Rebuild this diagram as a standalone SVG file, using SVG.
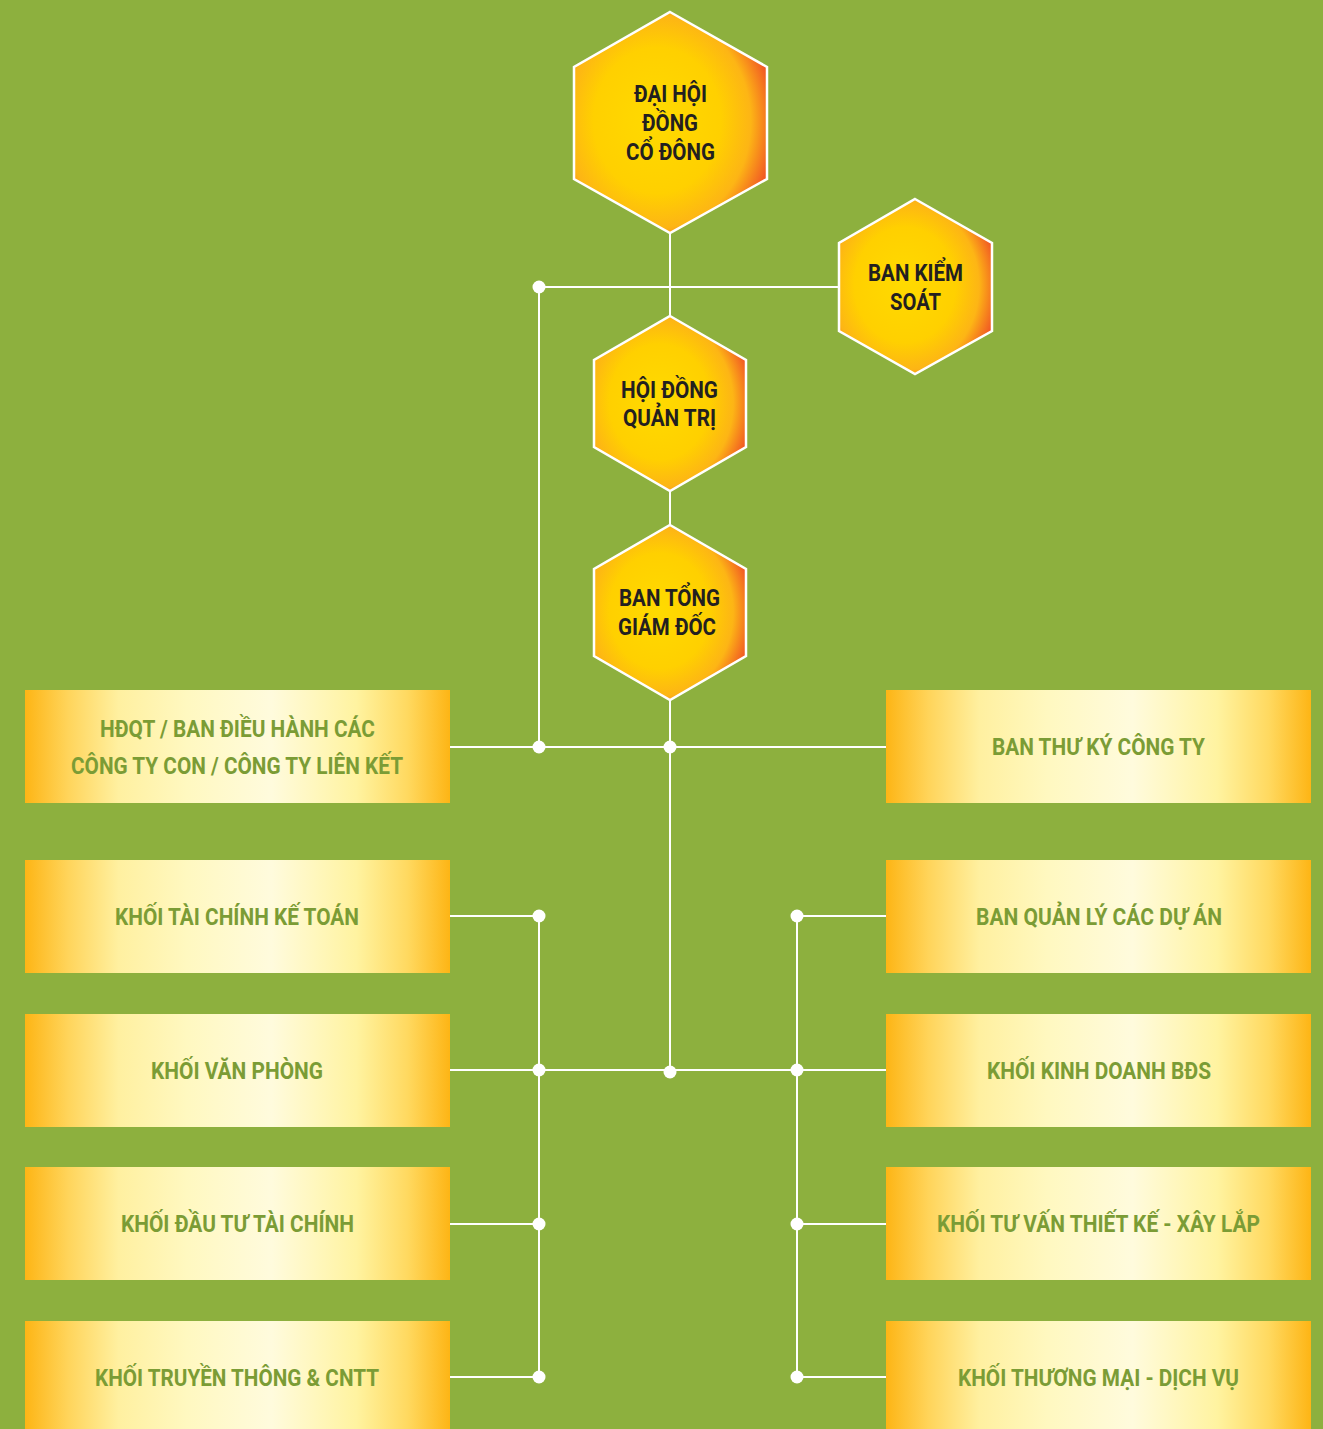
<svg xmlns="http://www.w3.org/2000/svg" width="1323" height="1429" viewBox="0 0 1323 1429">
<defs>
<radialGradient id="hexGrad" cx="0.44" cy="0.5" r="0.6" fx="0.42" fy="0.48">
<stop offset="0" stop-color="#FFDA00"/>
<stop offset="0.55" stop-color="#FFD000"/>
<stop offset="0.8" stop-color="#FDB515"/>
<stop offset="1" stop-color="#F15A24"/>
</radialGradient>
<linearGradient id="boxGrad" x1="0" y1="0" x2="1" y2="0">
<stop offset="0" stop-color="#FDB515"/>
<stop offset="0.1" stop-color="#FFD45A"/>
<stop offset="0.22" stop-color="#FFF0A0"/>
<stop offset="0.38" stop-color="#FFF8C0"/>
<stop offset="0.58" stop-color="#FFFBDD"/>
<stop offset="0.78" stop-color="#FFF3A0"/>
<stop offset="0.9" stop-color="#FFD960"/>
<stop offset="1" stop-color="#FDB515"/>
</linearGradient>
</defs>
<style>
.hex{fill:url(#hexGrad);stroke:#FFFFFF;stroke-width:2.5}
.box{fill:url(#boxGrad)}
.ht{font-family:Roboto,"Liberation Sans",sans-serif;font-weight:bold;font-size:23px;fill:#231F20;text-anchor:middle}
.bt{font-family:Roboto,"Liberation Sans",sans-serif;font-weight:bold;font-size:23px;fill:#7B9C35;text-anchor:middle}
.ln{stroke:#FFFFFF;stroke-width:2;fill:none}
.dot{fill:#FFFFFF}
</style>
<rect x="0" y="0" width="1323" height="1429" fill="#8DB03E"/>

<g id="connectors">
<line class="ln" x1="670" y1="233" x2="670" y2="316"/>
<line class="ln" x1="539" y1="287" x2="839" y2="287"/>
<line class="ln" x1="539" y1="287" x2="539" y2="747"/>
<line class="ln" x1="670" y1="491" x2="670" y2="525"/>
<line class="ln" x1="670" y1="700" x2="670" y2="1072"/>
<line class="ln" x1="450" y1="747" x2="886" y2="747"/>
<line class="ln" x1="450" y1="1070" x2="886" y2="1070"/>
<line class="ln" x1="539" y1="916" x2="539" y2="1377"/>
<line class="ln" x1="797" y1="916" x2="797" y2="1377"/>
<line class="ln" x1="450" y1="916" x2="539" y2="916"/>
<line class="ln" x1="450" y1="1224" x2="539" y2="1224"/>
<line class="ln" x1="450" y1="1377" x2="539" y2="1377"/>
<line class="ln" x1="797" y1="916" x2="886" y2="916"/>
<line class="ln" x1="797" y1="1224" x2="886" y2="1224"/>
<line class="ln" x1="797" y1="1377" x2="886" y2="1377"/>
<circle class="dot" cx="539" cy="287" r="6.5"/>
<circle class="dot" cx="539" cy="747" r="6.5"/>
<circle class="dot" cx="670" cy="747" r="6.5"/>
<circle class="dot" cx="670" cy="1072" r="6.5"/>
<circle class="dot" cx="539" cy="916" r="6.5"/>
<circle class="dot" cx="539" cy="1070" r="6.5"/>
<circle class="dot" cx="539" cy="1224" r="6.5"/>
<circle class="dot" cx="539" cy="1377" r="6.5"/>
<circle class="dot" cx="797" cy="916" r="6.5"/>
<circle class="dot" cx="797" cy="1070" r="6.5"/>
<circle class="dot" cx="797" cy="1224" r="6.5"/>
<circle class="dot" cx="797" cy="1377" r="6.5"/>
</g>

<g id="dai-hoi-dong-co-dong">
<polygon class="hex" points="670,12 767,67 767,179 670,233 574,179 574,67"/>
<text class="ht" x="670.5" y="102" textLength="73" lengthAdjust="spacingAndGlyphs">ĐẠI HỘI</text>
<text class="ht" x="670" y="131" textLength="56" lengthAdjust="spacingAndGlyphs">ĐỒNG</text>
<text class="ht" x="670.5" y="160" textLength="89" lengthAdjust="spacingAndGlyphs">CỔ ĐÔNG</text>
</g>

<g id="ban-kiem-soat">
<polygon class="hex" points="915,199 992,243 992,331 915,374 839,331 839,243"/>
<text class="ht" x="915.5" y="281" textLength="95" lengthAdjust="spacingAndGlyphs">BAN KIỂM</text>
<text class="ht" x="915.5" y="310" textLength="51" lengthAdjust="spacingAndGlyphs">SOÁT</text>
</g>

<g id="hoi-dong-quan-tri">
<polygon class="hex" points="670,316 746,360 746,447 670,491 594,447 594,360"/>
<text class="ht" x="669.5" y="398" textLength="97" lengthAdjust="spacingAndGlyphs">HỘI ĐỒNG</text>
<text class="ht" x="669.5" y="426" textLength="93" lengthAdjust="spacingAndGlyphs">QUẢN TRỊ</text>
</g>

<g id="ban-tong-giam-doc">
<polygon class="hex" points="670,525 746,569 746,656 670,700 594,656 594,569"/>
<text class="ht" x="669.5" y="606" textLength="101" lengthAdjust="spacingAndGlyphs">BAN TỔNG</text>
<text class="ht" x="667" y="635" textLength="98" lengthAdjust="spacingAndGlyphs">GIÁM ĐỐC</text>
</g>

<g id="hdqt-cong-ty-con">
<rect class="box" x="25" y="690" width="425" height="113"/>
<text class="bt" x="237.5" y="737" textLength="275" lengthAdjust="spacingAndGlyphs">HĐQT / BAN ĐIỀU HÀNH CÁC</text>
<text class="bt" x="237" y="774" textLength="332" lengthAdjust="spacingAndGlyphs">CÔNG TY CON / CÔNG TY LIÊN KẾT</text>
</g>

<g id="ban-thu-ky">
<rect class="box" x="886" y="690" width="425" height="113"/>
<text class="bt" x="1098.5" y="755" textLength="213" lengthAdjust="spacingAndGlyphs">BAN THƯ KÝ CÔNG TY</text>
</g>

<g id="khoi-tai-chinh-ke-toan">
<rect class="box" x="25" y="860" width="425" height="113"/>
<text class="bt" x="237" y="925" textLength="244" lengthAdjust="spacingAndGlyphs">KHỐI TÀI CHÍNH KẾ TOÁN</text>
</g>

<g id="ban-quan-ly-du-an">
<rect class="box" x="886" y="860" width="425" height="113"/>
<text class="bt" x="1099" y="925" textLength="246" lengthAdjust="spacingAndGlyphs">BAN QUẢN LÝ CÁC DỰ ÁN</text>
</g>

<g id="khoi-van-phong">
<rect class="box" x="25" y="1014" width="425" height="113"/>
<text class="bt" x="237" y="1079" textLength="172" lengthAdjust="spacingAndGlyphs">KHỐI VĂN PHÒNG</text>
</g>

<g id="khoi-kinh-doanh-bds">
<rect class="box" x="886" y="1014" width="425" height="113"/>
<text class="bt" x="1099" y="1079" textLength="224" lengthAdjust="spacingAndGlyphs">KHỐI KINH DOANH BĐS</text>
</g>

<g id="khoi-dau-tu-tai-chinh">
<rect class="box" x="25" y="1167" width="425" height="113"/>
<text class="bt" x="237.5" y="1232" textLength="233" lengthAdjust="spacingAndGlyphs">KHỐI ĐẦU TƯ TÀI CHÍNH</text>
</g>

<g id="khoi-tu-van-thiet-ke">
<rect class="box" x="886" y="1167" width="425" height="113"/>
<text class="bt" x="1098.5" y="1232" textLength="323" lengthAdjust="spacingAndGlyphs">KHỐI TƯ VẤN THIẾT KẾ - XÂY LẮP</text>
</g>

<g id="khoi-truyen-thong-cntt">
<rect class="box" x="25" y="1321" width="425" height="113"/>
<text class="bt" x="237" y="1386" textLength="284" lengthAdjust="spacingAndGlyphs">KHỐI TRUYỀN THÔNG &amp; CNTT</text>
</g>

<g id="khoi-thuong-mai-dich-vu">
<rect class="box" x="886" y="1321" width="425" height="113"/>
<text class="bt" x="1098.5" y="1386" textLength="281" lengthAdjust="spacingAndGlyphs">KHỐI THƯƠNG MẠI - DỊCH VỤ</text>
</g>
</svg>
